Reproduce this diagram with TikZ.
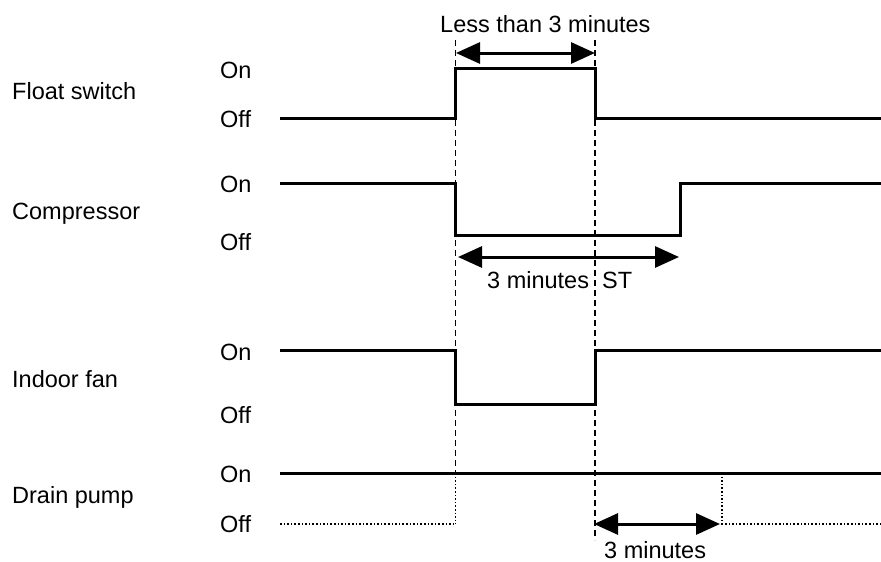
\documentclass[tikz,border=0pt]{standalone}
\usepackage{fontspec}
\setmainfont{Liberation Sans}
\usetikzlibrary{arrows.meta}
\begin{document}
\begin{tikzpicture}[x=1pt,y=-1pt,
  lbl/.style={anchor=base west,inner sep=0pt,font=\fontsize{23.5}{27}\selectfont,text=black},
  sig/.style={line width=3pt,line join=miter,black},
  guide/.style={line width=1.8pt,dash pattern=on 6pt off 4pt,black},
  dots/.style={line width=1.4pt,dash pattern=on 1.6pt off 2pt,black},
  dim/.style={line width=3pt,black,{Triangle[length=24pt,width=21pt]}-{Triangle[length=24pt,width=21pt]}}]
\useasboundingbox (0,0) rectangle (881,562);
% row labels
\node[lbl] (fs) at (12,99) {Float switch};
\node[lbl] (fsOn) at (220,78) {On};
\node[lbl] (fsOff) at (220,127) {Off};
\node[lbl] (cp) at (12,219) {Compressor};
\node[lbl] (cpOn) at (220,192) {On};
\node[lbl] (cpOff) at (220,250) {Off};
\node[lbl] (ifn) at (12,387) {Indoor fan};
\node[lbl] (ifOn) at (220,360) {On};
\node[lbl] (ifOff) at (220,423) {Off};
\node[lbl] (dp) at (12,503) {Drain pump};
\node[lbl] (dpOn) at (220,482) {On};
\node[lbl] (dpOff) at (220,532) {Off};
% guides
\coordinate (gA1) at (455.5,40);
\coordinate (gA2) at (455.5,473);
\coordinate (gA3) at (455.5,524);
\coordinate (gB1) at (595,40);
\coordinate (gB2) at (595,540);
\draw[guide] (gA1) -- (gA2);
\draw[dots] (gA2) -- (gA3);
\draw[guide] (gB1) -- (gB2);
% float switch
\draw[sig] (280,118) -- (455.5,118) -- (455.5,68) -- (595,68) -- (595,118) -- (881,118);
% compressor
\draw[sig] (280,183) -- (455.5,183) -- (455.5,235) -- (680,235) -- (680,183) -- (881,183);
% indoor fan
\draw[sig] (280,350) -- (455.5,350) -- (455.5,404) -- (595,404) -- (595,350) -- (881,350);
% drain pump
\draw[sig] (280,473) -- (881,473);
\draw[dots] (280,524) -- (gA3);
\coordinate (dR1) at (722,473);
\coordinate (dR2) at (722,524);
\draw[dots] (dR1) -- (dR2) -- (881,524);
% dimension arrows
\coordinate (a1) at (456,53);
\coordinate (a2) at (595,53);
\draw[dim] (a1) -- (a2);
\node[lbl] (t1) at (440,32) {Less than 3 minutes};
\coordinate (b1) at (458,257);
\coordinate (b2) at (679,257);
\draw[dim] (b1) -- (b2);
\node[lbl] (t2) at (487,288) {3 minutes};
\node[lbl] (t3) at (602,288) {ST};
\coordinate (c1) at (594,524);
\coordinate (c2) at (720,524);
\draw[dim] (c1) -- (c2);
\node[lbl] (t4) at (604,558) {3 minutes};
\end{tikzpicture}
\end{document}
